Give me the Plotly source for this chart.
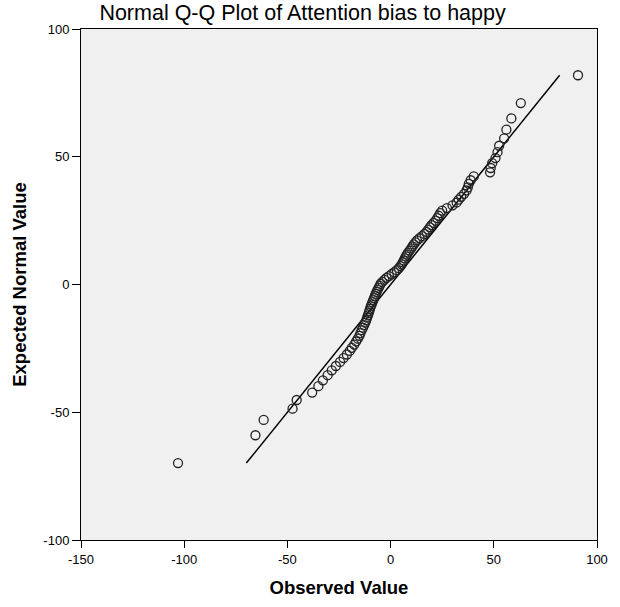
import plotly.graph_objects as go

observed = [
    -103.0, -65.5, -61.5, -47.5, -45.5, -38.0, -35.0, -32.8, -30.5, -28.5,
    -26.5, -24.5, -22.8, -21.2, -19.8, -18.8, -17.6, -16.7, -15.9, -15.1,
    -14.6, -14.0, -13.4, -12.8, -12.3, -11.8, -11.4, -11.0, -10.6, -10.3,
    -10.0, -9.6, -9.2, -8.8, -8.4, -8.0, -7.6, -7.2, -6.8, -6.3,
    -5.8, -5.3, -4.8, -4.0, -3.0, -2.0, -0.8, 0.5, 1.8, 3.0,
    4.0, 4.8, 5.4, 5.9, 6.4, 6.9, 7.4, 7.9, 8.5, 9.2,
    10.0, 10.6, 11.2, 12.0, 12.8, 14.0, 15.2, 16.4, 17.4, 18.2,
    19.0, 19.8, 20.8, 21.8, 22.6, 23.3, 24.0, 25.0, 27.3, 30.0,
    32.0, 33.0, 34.2, 35.6, 36.8, 37.4, 37.9, 38.8, 40.3, 48.2,
    48.5, 49.2, 50.8, 51.8, 52.6, 55.0, 56.1, 58.5, 63.1, 90.8,
]
expected = [
    -69.9, -59.0, -53.0, -48.6, -45.2, -42.3, -39.8, -37.5, -35.5, -33.6,
    -31.9, -30.3, -28.8, -27.4, -26.0, -24.8, -23.5, -22.3, -21.2, -20.1,
    -19.0, -17.9, -16.9, -15.9, -14.9, -14.0, -13.0, -12.1, -11.2, -10.4,
    -9.5, -8.6, -7.8, -6.9, -6.1, -5.3, -4.5, -3.7, -2.9, -2.1,
    -1.3, -0.5, 0.3, 1.0, 1.8, 2.6, 3.3, 4.1, 4.8, 5.6,
    6.4, 7.2, 7.9, 8.7, 9.4, 10.2, 11.0, 11.7, 12.5, 13.3,
    14.1, 14.9, 15.7, 16.5, 17.3, 18.1, 18.9, 19.8, 20.6, 21.5,
    22.4, 23.2, 24.1, 25.0, 26.0, 26.9, 27.9, 28.9, 29.9, 31.0,
    32.1, 33.2, 34.3, 35.5, 36.8, 38.0, 39.4, 40.8, 42.3, 43.9,
    45.6, 47.5, 49.5, 51.8, 54.3, 57.2, 60.6, 65.0, 71.0, 81.9,
]
x_ticks = [-150, -100, -50, 0, 50, 100]
y_ticks = [-100, -50, 0, 50, 100]

font = "Arial, Liberation Sans, sans-serif"

fig = go.Figure()
fig.add_trace(go.Scatter(
    x=[min(expected), max(expected)],
    y=[min(expected), max(expected)],
    mode='lines',
    line=dict(color='black', width=1.5),
    hoverinfo='skip'
))
fig.add_trace(go.Scatter(
    x=observed,
    y=expected,
    mode='markers',
    marker=dict(symbol='circle-open', size=9, color='#222222',
                line=dict(width=1.3))
))

fig.update_layout(
    width=620, height=607,
    margin=dict(l=81, r=22, t=29, b=61),
    paper_bgcolor='white',
    plot_bgcolor='#f0f0f0',
    showlegend=False,
    font=dict(family=font, color='black', size=13),
    title=dict(text='Normal Q-Q Plot of Attention bias to happy',
               xref='container', x=0.488, xanchor='center',
               yref='container', y=0.979, yanchor='middle',
               font=dict(size=21.5, family=font)),
)
fig.update_xaxes(
    range=[-150, 100], tickvals=x_ticks, ticktext=[str(v) for v in x_ticks],
    showgrid=False, zeroline=False,
    showline=True, linecolor='black', linewidth=1, mirror=True,
    ticks='outside', ticklen=7, tickcolor='black',
    tickfont=dict(size=13),
    title=dict(text='<b>Observed Value</b>', font=dict(size=18.5), standoff=15),
)
fig.update_yaxes(
    range=[-100, 100], tickvals=y_ticks, ticktext=[str(v) for v in y_ticks],
    showgrid=False, zeroline=False,
    showline=True, linecolor='black', linewidth=1, mirror=True,
    ticks='outside', ticklen=8, tickcolor='black',
    tickfont=dict(size=13),
    title=dict(text='<b>Expected Normal Value</b>', font=dict(size=18.5), standoff=11),
)

# drop the page's default body margin so the figure sits at the window's corner
fig.write_html("out.html", config={'displayModeBar': False},
               post_script="document.body.style.margin='0';")
